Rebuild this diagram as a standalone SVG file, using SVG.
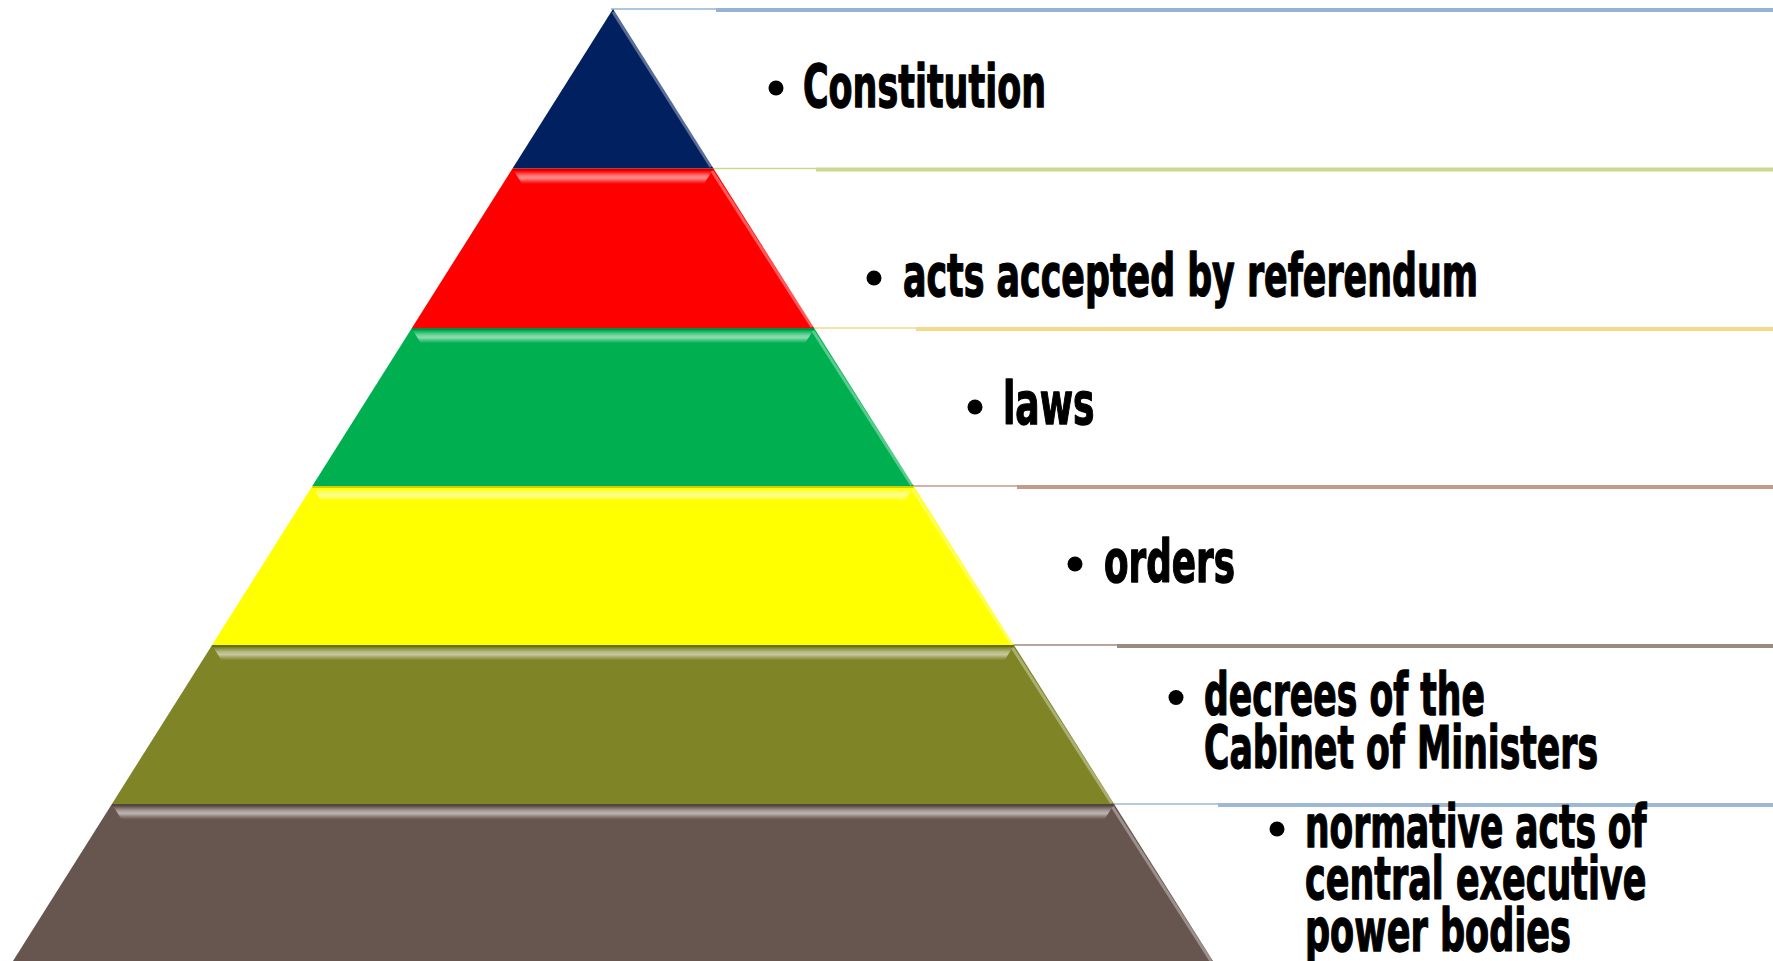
<svg xmlns="http://www.w3.org/2000/svg" width="1773" height="961" viewBox="0 0 1773 961">
<defs>
  <linearGradient id="bevel" x1="0" y1="0" x2="0" y2="1">
    <stop offset="0" stop-color="#ffffff" stop-opacity="0"/>
    <stop offset="0.35" stop-color="#ffffff" stop-opacity="0.45"/>
    <stop offset="0.55" stop-color="#ffffff" stop-opacity="0.55"/>
    <stop offset="0.85" stop-color="#ffffff" stop-opacity="0.15"/>
    <stop offset="1" stop-color="#ffffff" stop-opacity="0"/>
  </linearGradient>
</defs>
<style>
  .lbl { font-family: "Liberation Sans Narrow", "DejaVu Sans Condensed", "DejaVu Sans", sans-serif; font-weight: bold; font-stretch: condensed; font-size: 58px; fill: #000000; stroke: #000000; stroke-width: 1.3; stroke-linejoin: round; }
  .dot { fill: #000000; }
  .thin { stroke-width: 1.5; fill: none; }
  .thick { stroke-width: 4; fill: none; }
  .bev { fill: url(#bevel); }
  .edge { stroke: #ffffff; stroke-opacity: 0.35; stroke-width: 3; fill: none; }
  .topdark { stroke: #000000; stroke-opacity: 0.18; stroke-width: 2; fill: none; }
</style>
<rect x="0" y="0" width="1773" height="961" fill="#ffffff"/>

<g id="connectors">
  <line class="thin" stroke="#95B3D7" x1="611" y1="9" x2="716" y2="9"/>
  <line class="thick" stroke="#95B3D7" x1="716" y1="10" x2="1773" y2="10"/>
  <line class="thin" stroke="#C9D98F" x1="713" y1="168.5" x2="816" y2="168.5"/>
  <line class="thick" stroke="#C9D98F" x1="816" y1="169.5" x2="1773" y2="169.5"/>
  <line class="thin" stroke="#F5D98A" x1="814" y1="328" x2="916" y2="328"/>
  <line class="thick" stroke="#F5D98A" x1="916" y1="329" x2="1773" y2="329"/>
  <line class="thin" stroke="#C49A8A" x1="913" y1="486" x2="1017" y2="486"/>
  <line class="thick" stroke="#C49A8A" x1="1017" y1="487" x2="1773" y2="487"/>
  <line class="thin" stroke="#9C8A80" x1="1013" y1="645" x2="1117" y2="645"/>
  <line class="thick" stroke="#9C8A80" x1="1117" y1="646" x2="1773" y2="646"/>
  <line class="thin" stroke="#9DB8D2" x1="1113" y1="804" x2="1218" y2="804"/>
  <line class="thick" stroke="#9DB8D2" x1="1218" y1="805" x2="1773" y2="805"/>
</g>

<g id="level1">
  <polygon points="613,9 713.5,168.5 512.5,168.5" fill="#002060"/>
  <line class="edge" x1="613" y1="12" x2="711" y2="167"/>
  <circle class="dot" cx="776" cy="88" r="7.5"/>
  <text class="lbl" x="803" y="107" textLength="243" lengthAdjust="spacingAndGlyphs">Constitution</text>
</g>

<g id="level2">
  <polygon points="512.5,168.5 713.5,168.5 814.1,328 411.9,328" fill="#FF0000"/>
  <polygon class="bev" points="514,171 712,171 704,184 522,184"/>
  <line class="topdark" x1="512.5" y1="169.5" x2="713.5" y2="169.5"/>
  <line class="edge" x1="712" y1="171" x2="812" y2="327"/>
  <circle class="dot" cx="874" cy="278" r="7.5"/>
  <text class="lbl" x="903" y="296" textLength="575" lengthAdjust="spacingAndGlyphs">acts accepted by referendum</text>
</g>

<g id="level3">
  <polygon points="411.9,328 814.1,328 913.7,486 312.3,486" fill="#00B050"/>
  <polygon class="bev" points="413,330.5 813,330.5 805,343.5 421,343.5"/>
  <line class="topdark" x1="411.9" y1="329" x2="814.1" y2="329"/>
  <line class="edge" x1="813" y1="331" x2="911.5" y2="485" stroke-opacity="0.5"/>
  <circle class="dot" cx="975" cy="407" r="7.5"/>
  <text class="lbl" x="1003" y="424" textLength="91.5" lengthAdjust="spacingAndGlyphs">laws</text>
</g>

<g id="level4">
  <polygon points="312.3,486 913.7,486 1013.9,645 212.1,645" fill="#FFFF00"/>
  <polygon class="bev" points="313.5,488.5 912.5,488.5 904.5,501.5 321.5,501.5"/>
  <line class="topdark" x1="312.3" y1="487" x2="913.7" y2="487" stroke-opacity="0.06"/>
  <line class="edge" x1="912.5" y1="489" x2="1011.5" y2="644" stroke-opacity="0.5"/>
  <circle class="dot" cx="1075" cy="564" r="7.5"/>
  <text class="lbl" x="1104" y="582" textLength="131" lengthAdjust="spacingAndGlyphs">orders</text>
</g>

<g id="level5">
  <polygon points="212.1,645 1013.9,645 1114.1,804 111.9,804" fill="#7F8427"/>
  <polygon class="bev" points="213.5,647.5 1012.5,647.5 1004.5,660.5 221.5,660.5"/>
  <line class="topdark" x1="212.1" y1="646" x2="1013.9" y2="646"/>
  <line class="edge" x1="1012.5" y1="648" x2="1111.5" y2="803"/>
  <circle class="dot" cx="1176" cy="697.5" r="7.5"/>
  <text class="lbl" x="1204" y="715" textLength="281" lengthAdjust="spacingAndGlyphs">decrees of the</text>
  <text class="lbl" x="1204" y="768" textLength="394" lengthAdjust="spacingAndGlyphs">Cabinet of Ministers</text>
</g>

<g id="level6">
  <polygon points="111.9,804 1114.1,804 1213,961 13,961" fill="#67554F"/>
  <polygon class="bev" points="113.5,806.5 1112.5,806.5 1104.5,819.5 121.5,819.5"/>
  <line class="topdark" x1="111.9" y1="805" x2="1114.1" y2="805"/>
  <line class="edge" x1="1112.5" y1="807" x2="1211" y2="961"/>
  <circle class="dot" cx="1277" cy="829" r="7.5"/>
  <text class="lbl" x="1305" y="847" textLength="341.5" lengthAdjust="spacingAndGlyphs">normative acts of</text>
  <text class="lbl" x="1305" y="899" textLength="341.5" lengthAdjust="spacingAndGlyphs">central executive</text>
  <text class="lbl" x="1305" y="951" textLength="266" lengthAdjust="spacingAndGlyphs">power bodies</text>
</g>
</svg>
